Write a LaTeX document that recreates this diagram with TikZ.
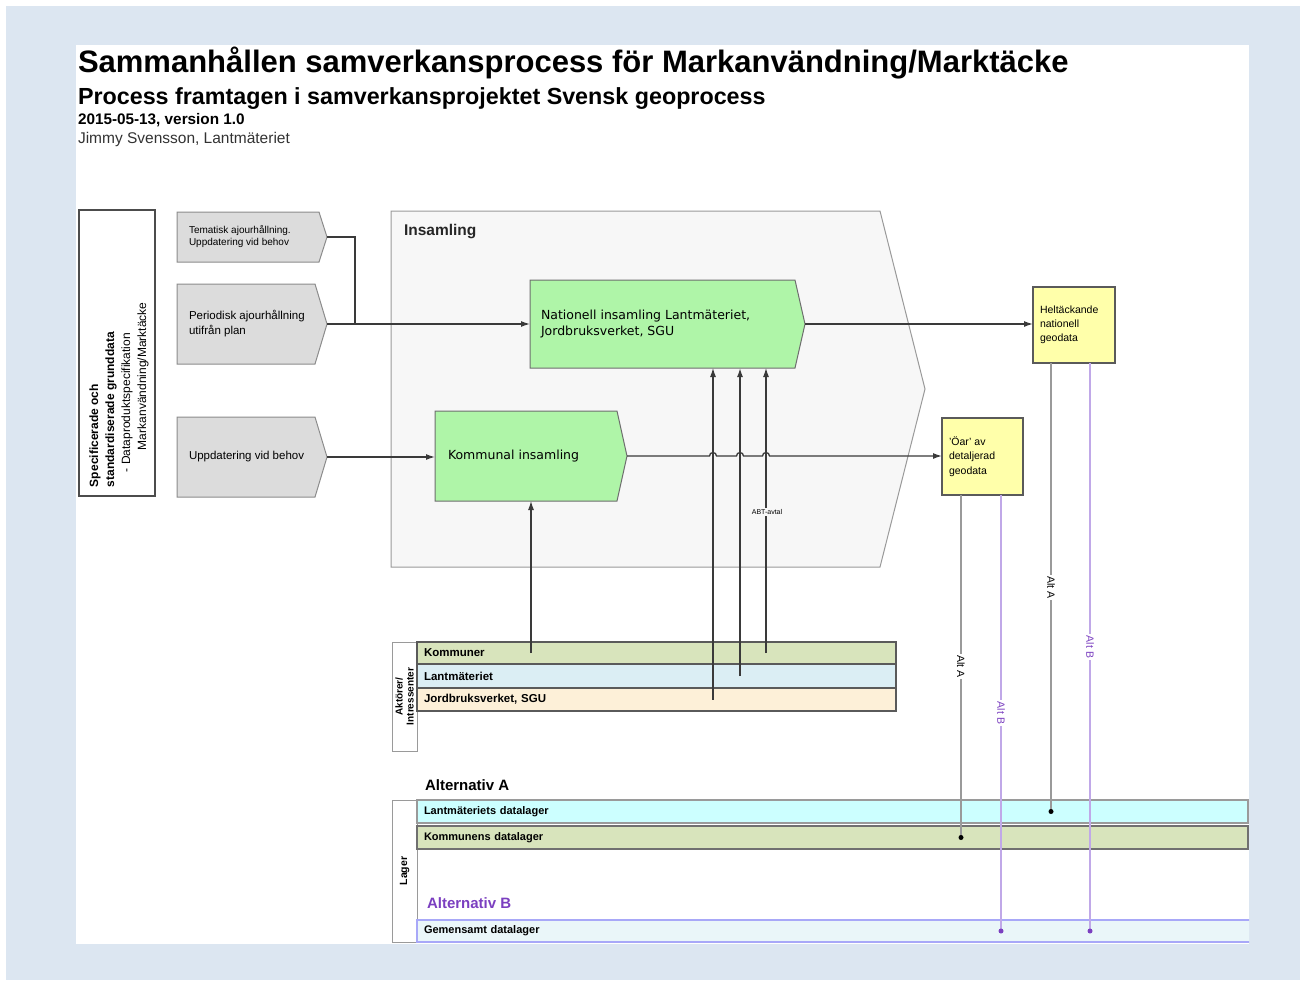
\documentclass[tikz,border=0pt]{standalone}
\usepackage{fontspec}
\setmainfont{Liberation Sans}
\newfontfamily\dvfont{DejaVu Sans}
\usetikzlibrary{arrows.meta,calc}
\pgfdeclarelayer{bgA}
\pgfdeclarelayer{bgB}
\pgfsetlayers{bgA,bgB,main}
\definecolor{pageblue}{HTML}{DCE6F1}
\definecolor{boxgray}{HTML}{DCDCDC}
\definecolor{boxgraydraw}{HTML}{8C8C8C}
\definecolor{insfill}{HTML}{F7F7F7}
\definecolor{insdraw}{HTML}{9A9A9A}
\definecolor{greenfill}{HTML}{AFF5A8}
\definecolor{greendraw}{HTML}{6E6E6E}
\definecolor{yelfill}{HTML}{FFFFAA}
\definecolor{yeldraw}{HTML}{5A5A5A}
\definecolor{rowkom}{HTML}{D8E4BC}
\definecolor{rowlm}{HTML}{DBEEF4}
\definecolor{rowjb}{HTML}{FDF0D8}
\definecolor{rowdraw}{HTML}{5A5A5A}
\definecolor{cyanrow}{HTML}{CCFFFF}
\definecolor{kdldraw}{HTML}{707070}
\definecolor{gemfill}{HTML}{EAF6F9}
\definecolor{gemdraw}{HTML}{A8A8F8}
\definecolor{purpleline}{HTML}{C0A8E8}
\definecolor{purpletext}{HTML}{7B3FC0}
\definecolor{altgray}{HTML}{9A9A9A}
\definecolor{linedark}{HTML}{3A3A3A}
\newcommand{\fsz}[2]{\fontsize{#1}{#2}\selectfont}
\newcommand{\chevshape}[4]{%
  \begin{pgfonlayer}{bgB}
    \draw[#4, fill=#3, line width=1pt] (#1.north west) -- (#1.north east) -- ($(#1.east)+(#2,0)$) -- (#1.south east) -- (#1.south west) -- cycle;
  \end{pgfonlayer}
  \coordinate (#1-tip) at ($(#1.east)+(#2,0)$);}
\begin{document}
\begin{tikzpicture}[x=1pt,y=-1pt,
  every node/.style={outer sep=0pt},
  body/.style={anchor=north west, inner sep=0pt, draw=none},
  lbl/.style={anchor=west, align=left, inner sep=0pt},
  ybox/.style={anchor=north west, inner sep=0pt, draw=yeldraw, fill=yelfill, line width=1.2pt},
  rowbox/.style={anchor=north west, inner ysep=0pt, inner xsep=7pt, align=left, line width=1.3pt, font=\bfseries\fsz{11.5}{13}},
  sidebox/.style={anchor=north west, inner sep=0pt, draw=insdraw, fill=white, line width=1pt, minimum width=25},
  conn/.style={draw=linedark, line width=1.3pt},
  arr/.style={conn, -{Latex[length=9pt,width=6pt]}},
  altA/.style={draw=altgray, line width=1.2pt},
  altB/.style={draw=purpleline, line width=1.2pt},
  altlbl/.style={midway, rotate=-90, fill=white, inner sep=1.5pt, font=\fsz{10.5}{10.5}}
]
\begin{pgfonlayer}{bgA}
  \fill[white] (0,0) rectangle (1306,985);
  \fill[pageblue] (6,6) rectangle (1300,980);
  \fill[white] (76,45) rectangle (1249,944);
\end{pgfonlayer}
\useasboundingbox (0,0) rectangle (1306,985);

% titles
\node[anchor=base west, inner sep=0pt, font=\bfseries\fsz{31}{32}] (title) at (78,72) {Sammanhållen samverkansprocess för Markanvändning/Marktäcke};
\node[anchor=base west, inner sep=0pt, font=\bfseries\fsz{23.3}{25}] (subtitle) at (78,104) {Process framtagen i samverkansprojektet Svensk geoprocess};
\node[anchor=base west, inner sep=0pt, font=\bfseries\fsz{15.3}{16}] (date) at (78,124) {2015-05-13, version 1.0};
\node[anchor=base west, inner sep=0pt, font=\fsz{15.5}{16}, text=black!80] (author) at (78,143) {Jimmy Svensson, Lantmäteriet};

% left specification box
\node[body, draw=black!70, fill=white, line width=1.2pt, minimum width=76, minimum height=286] (spec) at (79,210) {};
\node[rotate=90, anchor=west, align=left, inner sep=0pt, font=\fsz{12}{16}] (spectext) at (119,487)
  {\textbf{Specificerade och}\\\textbf{standardiserade grunddata}\\\hspace*{15pt}- Dataproduktspecifikation\\\hspace*{37pt}Markanvändning/Marktäcke};

% gray input boxes
\node[body, minimum width=142, minimum height=50] (tem) at (177,212) {};
\chevshape{tem}{8}{boxgray}{boxgraydraw}
\node[lbl, font=\fsz{10}{12}] (temt) at ($(tem.west)+(12,0)$) {Tematisk ajourhållning.\\Uppdatering vid behov};

\node[body, minimum width=138, minimum height=80] (per) at (177,284) {};
\chevshape{per}{12}{boxgray}{boxgraydraw}
\node[lbl, font=\fsz{11.5}{15}] (pert) at ($(per.west)+(12,0)$) {Periodisk ajourhållning\\utifrån plan};

\node[body, minimum width=138, minimum height=80] (upd) at (177,417) {};
\chevshape{upd}{12}{boxgray}{boxgraydraw}
\node[lbl, font=\fsz{11.5}{15}] (updt) at ($(upd.west)+(12,0)$) {Uppdatering vid behov};

% Insamling
\node[body, minimum width=489, minimum height=356] (ins) at (391,211) {};
\chevshape{ins}{45}{insfill}{insdraw}
\node[anchor=north west, inner sep=0pt, font=\bfseries\fsz{15.5}{17}, text=black!85] (inst) at (404,224) {Insamling};

% green process boxes
\node[body, minimum width=265, minimum height=88] (nat) at (530,280) {};
\chevshape{nat}{10}{greenfill}{greendraw}
\node[lbl, font=\dvfont\fsz{12.5}{16}] (natt) at ($(nat.west)+(11,0)$) {Nationell insamling Lantmäteriet,\\Jordbruksverket, SGU};

\node[body, minimum width=182, minimum height=90] (kom) at (435,411) {};
\chevshape{kom}{10}{greenfill}{greendraw}
\node[lbl, font=\dvfont\fsz{12.5}{16}] (komt) at ($(kom.west)+(13,0)$) {Kommunal insamling};

% yellow result boxes
\node[ybox, minimum width=81, minimum height=77] (oar) at (942,418) {};
\node[lbl, font=\fsz{10.5}{14.5}] (oart) at ($(oar.west)+(7,0)$) {'Öar' av\\detaljerad\\geodata};
\node[ybox, minimum width=82, minimum height=76] (helt) at (1033,287) {};
\node[lbl, font=\fsz{10.5}{14}] (heltt) at ($(helt.west)+(7,0)$) {Heltäckande\\nationell\\geodata};

% actors
\node[sidebox, minimum height=109] (akt) at (392,642) {};
\node[rotate=90, align=center, inner sep=0pt, font=\bfseries\fsz{10}{11}] (aktt) at (akt.center) {Aktörer/\\Intressenter};
\node[rowbox, draw=rowdraw, fill=rowkom, text width=465, minimum height=22] (rkom) at (417,642) {Kommuner};
\node[rowbox, draw=rowdraw, fill=rowlm, text width=465, minimum height=24] (rlm) at (417,664) {Lantmäteriet};
\node[rowbox, draw=rowdraw, fill=rowjb, text width=465, minimum height=23] (rjb) at (417,688) {Jordbruksverket, SGU};

% storage
\node[anchor=west, inner sep=0pt, font=\bfseries\fsz{15}{16}] (altAhead) at (425,785) {Alternativ A};
\node[anchor=west, inner sep=0pt, font=\bfseries\fsz{15}{16}, text=purpletext] (altBhead) at (427,903) {Alternativ B};
\node[sidebox, minimum height=142] (lager) at (392,800) {};
\node[rotate=90, inner sep=0pt, font=\bfseries\fsz{10.5}{12}] (lagert) at (lager.center) {Lager};
\begin{scope}
  \clip (76,45) rectangle (1249,944);
  \node[rowbox, draw=altgray, fill=cyanrow, text width=817, minimum height=23, font=\bfseries\fsz{11}{13}] (lmdl) at (417,800) {Lantmäteriets datalager};
  \node[rowbox, draw=kdldraw, fill=rowkom, text width=817, minimum height=23, font=\bfseries\fsz{11}{13}] (kdl) at (417,826) {Kommunens datalager};
  \node[rowbox, draw=gemdraw, fill=gemfill, text width=840, minimum height=22, line width=1.8pt, font=\bfseries\fsz{11}{13}] (gem) at (417,920) {Gemensamt datalager};
\end{scope}

% connectors from inputs
\coordinate (j1) at ($(per-tip)+(28,0)$);
\draw[conn] (tem-tip) -| (j1);
\draw[arr] (per-tip) -- (per-tip -| nat.west);
\draw[arr] (upd-tip) -- (upd-tip -| kom.west);
\draw[arr] (nat-tip) -- (nat-tip -| helt.west);

% vertical actor arrows
\coordinate (vk) at (531,501);
\coordinate (v1) at (713,368);
\coordinate (v2) at (740,368);
\coordinate (v3) at (766,368);
\draw[arr, line width=1.1pt] (vk |- rkom.center) -- (vk);
\draw[arr, line width=1.1pt] (v1 |- rjb.center) -- (v1);
\draw[arr, line width=1.5pt] (v2 |- rlm.center) -- (v2);
\draw[arr, line width=1.1pt] (v3 |- rkom.center) -- (v3);
\node[inner sep=1pt, fill=insfill, font=\fsz{7}{7}] (abt) at (767,512) {ABT-avtal};

% Kommunal -> Oar with line hops
\draw[conn, -{Latex[length=9pt,width=6pt]}] (kom-tip)
  -- ([xshift=-3.5pt]v1 |- kom-tip) arc[start angle=180, end angle=0, radius=3.5pt]
  -- ([xshift=-3.5pt]v2 |- kom-tip) arc[start angle=180, end angle=0, radius=3.5pt]
  -- ([xshift=-3.5pt]v3 |- kom-tip) arc[start angle=180, end angle=0, radius=3.5pt]
  -- (kom-tip -| oar.west);

% alternative lines to storage
\coordinate (oarA) at ($(oar.south west)+(19,0)$);
\coordinate (oarB) at ($(oar.south west)+(59,0)$);
\coordinate (heltA) at ($(helt.south west)+(18,0)$);
\coordinate (heltB) at ($(helt.south west)+(57,0)$);
\coordinate (oarAend) at (oarA |- kdl.center);
\coordinate (oarBend) at (oarB |- gem.center);
\coordinate (heltAend) at (heltA |- lmdl.center);
\coordinate (heltBend) at (heltB |- gem.center);
\draw[altA] (oarA) -- node[altlbl] {Alt A} (oarAend);
\draw[altB] (oarB) -- node[altlbl, text=purpletext] {Alt B} (oarBend);
\draw[altA] (heltA) -- node[altlbl] {Alt A} (heltAend);
\draw[altB] (heltB) -- node[altlbl, text=purpletext] {Alt B} (heltBend);
\fill[black] (oarAend) circle[radius=2.5pt];
\fill[black] (heltAend) circle[radius=2.5pt];
\fill[purpletext] (oarBend) circle[radius=2.5pt];
\fill[purpletext] (heltBend) circle[radius=2.5pt];
\end{tikzpicture}
\end{document}
